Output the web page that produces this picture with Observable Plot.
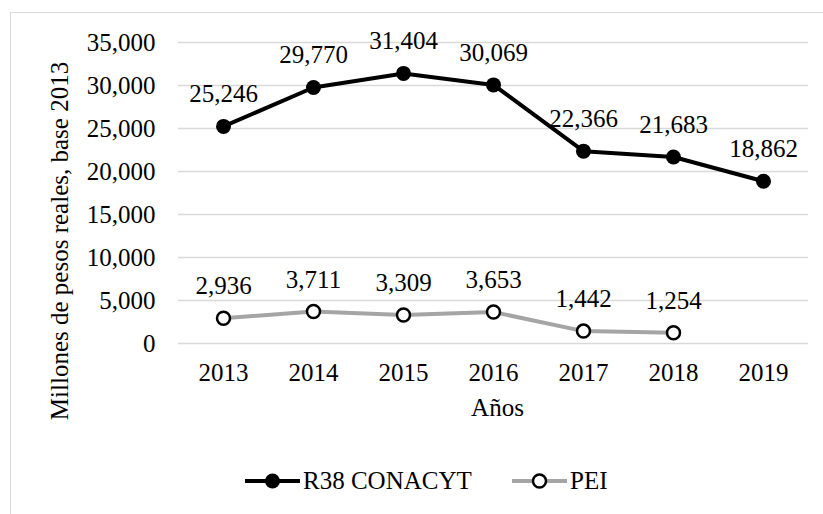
<!DOCTYPE html>
<html>
<head>
<meta charset="utf-8">
<script src="https://cdn.jsdelivr.net/npm/d3@7"></script>
<script src="https://cdn.jsdelivr.net/npm/@observablehq/plot@0.6"></script>
<style>
  html, body { margin: 0; padding: 0; background: #fff; font-family: serif; }
  #wrap { position: relative; width: 823px; height: 514px; overflow: hidden; font-family: serif; }
  #frame { position: absolute; left: 10px; top: 12px; width: 900px; height: 600px;
           border-left: 1.5px solid #d9d9d9; border-top: 1.5px solid #d9d9d9; }
  #chart { position: absolute; left: 0; top: 0; }
  #legend { position: absolute; left: 0; top: 466px; width: 823px; height: 30px; }
  .item { position: absolute; top: 0; display: flex; align-items: center; font-family: serif; font-size: 25px; color: #000; height: 30px; }
  .item svg { display: block; }
  svg text { font-family: serif; }
</style>
</head>
<body>
<div id="wrap">
  <div id="frame"></div>
  <div id="chart"></div>
  <div id="legend"></div>
</div>
<script>
const years = ["2013", "2014", "2015", "2016", "2017", "2018", "2019"];
const r38Values = [25246, 29770, 31404, 30069, 22366, 21683, 18862];
const peiValues = [2936, 3711, 3309, 3653, 1442, 1254, null];
const yTicks = [0, 5000, 10000, 15000, 20000, 25000, 30000, 35000];
const seriesNames = ["R38 CONACYT", "PEI"];
const yTitle = "Millones de pesos reales, base 2013";
const xTitle = "Años";

const fmt = d3.format(",");
const r38 = years.map((y, i) => ({year: y, value: r38Values[i]}));
const pei = years.map((y, i) => ({year: y, value: peiValues[i]})).filter(d => d.value != null);

const font = "serif";

function draw() {
  const plot = Plot.plot({
    width: 823,
    height: 440,
    marginLeft: 178,
    marginRight: 15,
    marginTop: 42,
    marginBottom: 97,
    style: {fontFamily: font, fontSize: "25px", color: "#000", background: "transparent", overflow: "visible"},
    x: {type: "point", domain: years, padding: 0.5, label: null},
    y: {domain: [0, 35000], label: null},
    marks: [
      Plot.ruleY(yTicks, {stroke: "#d9d9d9", strokeWidth: 1.5}),
      Plot.axisY({ticks: yTicks, tickFormat: fmt, tickSize: 0, tickPadding: 23, fontSize: 25, fontFamily: font, label: null}),
      Plot.axisX({tickSize: 0, tickPadding: 20, fontSize: 25, fontFamily: font, label: null}),
      Plot.line(pei, {x: "year", y: "value", stroke: "#a5a5a5", strokeWidth: 4}),
      Plot.dot(pei, {x: "year", y: "value", r: 6.5, fill: "white", stroke: "black", strokeWidth: 2.5}),
      Plot.line(r38, {x: "year", y: "value", stroke: "black", strokeWidth: 4}),
      Plot.dot(r38, {x: "year", y: "value", r: 7.5, fill: "black", stroke: "none"}),
      Plot.text(r38, {x: "year", y: "value", text: d => fmt(d.value), dy: -32, fontSize: 25, fontFamily: font, fill: "black"}),
      Plot.text(pei, {x: "year", y: "value", text: d => fmt(d.value), dy: -32, fontSize: 25, fontFamily: font, fill: "black"}),
      Plot.text([yTitle], {text: d => d, frameAnchor: "left", rotate: -90, dx: -119, dy: 48, fontSize: 25, fontFamily: font, fill: "black", textAnchor: "middle"}),
      Plot.text([xTitle], {text: d => d, frameAnchor: "bottom", dx: 4, dy: 72, fontSize: 25, fontFamily: font, fill: "black"})
    ]
  });
  document.getElementById("chart").replaceChildren(plot);

  const legend = document.getElementById("legend");
  legend.replaceChildren();
  const items = [
    {name: seriesNames[0], left: 245, line: "#000", fill: "#000", stroke: "none", r: 7.5},
    {name: seriesNames[1], left: 512, line: "#a5a5a5", fill: "#fff", stroke: "#000", r: 6.5}
  ];
  for (const it of items) {
    const div = document.createElement("div");
    div.className = "item";
    div.style.left = it.left + "px";
    const svg = d3.create("svg").attr("width", 56).attr("height", 30);
    svg.append("line").attr("x1", 0).attr("x2", 55).attr("y1", 15).attr("y2", 15)
       .attr("stroke", it.line).attr("stroke-width", 4);
    svg.append("circle").attr("cx", 27.5).attr("cy", 15).attr("r", it.r)
       .attr("fill", it.fill).attr("stroke", it.stroke).attr("stroke-width", 2.5);
    div.appendChild(svg.node());
    const span = document.createElement("span");
    span.textContent = it.name;
    span.style.marginLeft = "2px";
    div.appendChild(span);
    legend.appendChild(div);
  }
}

draw();
if (document.fonts) {
  document.fonts.ready.then(draw);
}
setTimeout(draw, 150);
</script>
</body>
</html>
